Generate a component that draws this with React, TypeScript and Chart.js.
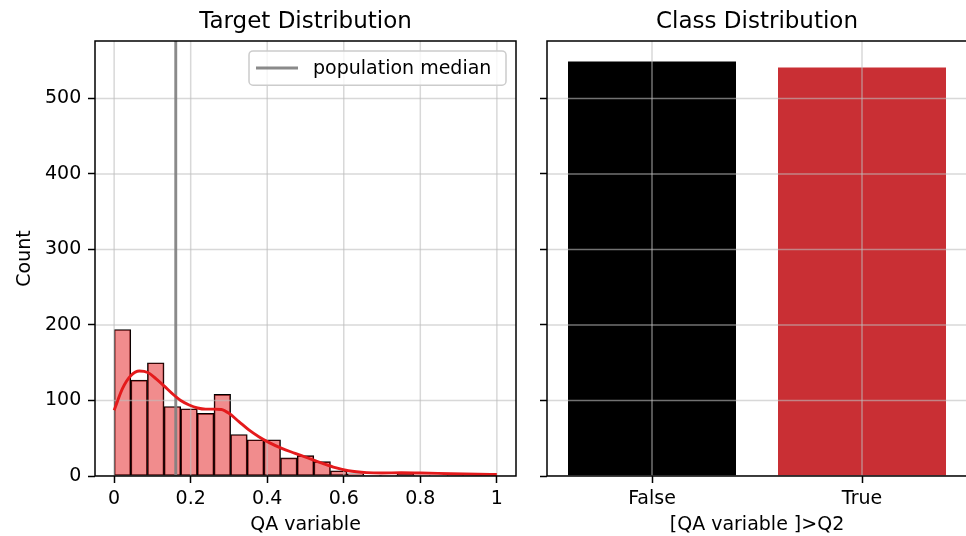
import React, { useEffect, useRef } from 'react';
import { Chart, registerables } from 'chart.js';

Chart.register(...registerables);

// ---------- data ----------
const histCounts = [194, 127, 150, 92, 89, 83, 108, 55, 48, 48, 24, 27, 19, 7, 3, 1, 1, 5, 1, 0, 1, 0, 1];
const binRange = [0, 1];
const kdeX = [0, 0.022, 0.044, 0.066, 0.088, 0.109, 0.131, 0.152, 0.174, 0.196, 0.218, 0.239, 0.261, 0.28, 0.3, 0.326, 0.352, 0.378, 0.404, 0.438, 0.473, 0.508, 0.543, 0.578, 0.612, 0.66, 0.7, 0.75, 0.8, 0.88, 0.95, 1.0];
const kdeY = [87, 116, 133, 139, 137, 129, 119, 109, 100, 94, 90, 88.5, 88.5, 88, 83, 72, 61, 52, 44.5, 36.5, 30, 23.5, 17, 11, 7, 4.5, 4, 4.3, 4, 3, 2.3, 2];
const medianValue = 0.161;
const xTickValues = [0, 0.2, 0.4, 0.6, 0.8, 1];
const xTickLabels = ['0', '0.2', '0.4', '0.6', '0.8', '1'];
const yTickValues = [0, 100, 200, 300, 400, 500];
const yTickLabels = ['0', '100', '200', '300', '400', '500'];
const classLabels = ['False', 'True'];
const classCounts = [549, 541];
const yMax = 576;
const xLimits = [-0.05, 1.05];

// ---------- styles ----------
const FONT = "'DejaVu Sans', sans-serif";
const GRID_COLOR = 'rgba(190,190,190,0.6)';
const KDE_COLOR = '#e41a1c';
const HIST_FILL = 'rgba(228,26,28,0.5)';
const MEDIAN_COLOR = 'rgba(128,128,128,0.92)';
const CLASS_COLORS = ['#000000', '#c92f34'];

Chart.defaults.font.family = FONT;
Chart.defaults.font.size = 19;
Chart.defaults.color = '#000';

const overlayPlugin = {
  id: 'overlay',
  afterDatasetDraw(chart: any, args: any) {
    if (args.meta.type !== 'bar') return;
    const { ctx, chartArea, scales } = chart;
    const { left, right, top, bottom } = chartArea;
    ctx.save();
    ctx.beginPath();
    ctx.rect(left, top, right - left, bottom - top);
    ctx.clip();
    ctx.strokeStyle = GRID_COLOR;
    ctx.lineWidth = 1.5;
    const xs = scales.x;
    xs.ticks.forEach((_t: any, i: number) => {
      const px = xs.getPixelForTick(i);
      ctx.beginPath();
      ctx.moveTo(px, top);
      ctx.lineTo(px, bottom);
      ctx.stroke();
    });
    const ys = scales.y;
    ys.ticks.forEach((_t: any, i: number) => {
      const py = ys.getPixelForTick(i);
      ctx.beginPath();
      ctx.moveTo(left, py);
      ctx.lineTo(right, py);
      ctx.stroke();
    });
    ctx.restore();
  },
  afterDraw(chart: any, _args: any, opts: any) {
    const { ctx, chartArea } = chart;
    const { left, right, top, bottom } = chartArea;
    ctx.save();
    ctx.strokeStyle = '#000';
    ctx.lineWidth = 1.5;
    ctx.strokeRect(left, top, right - left, bottom - top);
    if (opts && opts.legendText) {
      const boxW = 257;
      const boxH = 34.3;
      const bx = right - 10 - boxW;
      const by = top + 9.9;
      ctx.beginPath();
      (ctx as any).roundRect(bx, by, boxW, boxH, 4);
      ctx.fillStyle = 'rgba(255,255,255,0.8)';
      ctx.fill();
      ctx.strokeStyle = '#cccccc';
      ctx.lineWidth = 1.5;
      ctx.stroke();
      const my = by + boxH / 2;
      ctx.beginPath();
      ctx.moveTo(bx + 7, my);
      ctx.lineTo(bx + 49, my);
      ctx.strokeStyle = opts.legendColor;
      ctx.lineWidth = 2.9;
      ctx.stroke();
      ctx.fillStyle = '#000';
      ctx.font = `19px ${FONT}`;
      ctx.textBaseline = 'middle';
      ctx.textAlign = 'left';
      ctx.fillText(opts.legendText, bx + 64, my + 1);
    }
    ctx.restore();
  },
};

const tickGrid = {
  display: true,
  drawOnChartArea: false,
  drawTicks: true,
  tickLength: 7,
  tickWidth: 1.5,
  tickColor: '#000',
  offset: false,
};

const titleOpts = (text: string) => ({
  display: true,
  text,
  fullSize: false,
  color: '#000',
  font: { size: 23, weight: 'normal' as const, family: FONT },
  padding: { top: 8.2, bottom: 5.2 },
});

export default function App() {
  const leftRef = useRef<HTMLCanvasElement>(null);
  const rightRef = useRef<HTMLCanvasElement>(null);

  useEffect(() => {
    const nBins = histCounts.length;
    const binW = (binRange[1] - binRange[0]) / nBins;
    const histData = histCounts.map((c, i) => ({ x: binRange[0] + (i + 0.5) * binW, y: c }));
    const kdeData = kdeX.map((x, i) => ({ x, y: kdeY[i] }));

    const left = new Chart(leftRef.current as HTMLCanvasElement, {
      type: 'bar',
      data: {
        datasets: [
          {
            type: 'line',
            label: 'kde',
            data: kdeData,
            borderColor: KDE_COLOR,
            borderWidth: 2.9,
            pointRadius: 0,
            cubicInterpolationMode: 'monotone',
            order: 0,
          } as any,
          {
            type: 'line',
            label: 'population median',
            data: [
              { x: medianValue, y: 0 },
              { x: medianValue, y: yMax },
            ],
            borderColor: MEDIAN_COLOR,
            borderWidth: 2.9,
            pointRadius: 0,
            order: 1,
          } as any,
          {
            type: 'bar',
            label: 'hist',
            data: histData,
            backgroundColor: HIST_FILL,
            borderColor: '#000',
            borderWidth: 1,
            borderSkipped: false,
            barPercentage: 1,
            categoryPercentage: 1,
            order: 2,
          } as any,
        ],
      },
      options: {
        responsive: false,
        animation: false,
        layout: { padding: { left: 0, right: 10, top: 0, bottom: 0 } },
        plugins: {
          legend: { display: false },
          tooltip: { enabled: false },
          title: titleOpts('Target Distribution'),
          overlay: { legendText: 'population median', legendColor: MEDIAN_COLOR },
        } as any,
        scales: {
          x: {
            type: 'linear',
            offset: false,
            min: xLimits[0],
            max: xLimits[1],
            afterBuildTicks: (s: any) => {
              s.ticks = xTickValues.map((v) => ({ value: v }));
            },
            afterFit: (s: any) => {
              s.height = 60;
            },
            ticks: {
              callback: (_v: any, i: number) => xTickLabels[i] ?? '',
              padding: 5,
              maxRotation: 0,
              autoSkip: false,
              font: { size: 19 },
              color: '#000',
            },
            grid: tickGrid,
            border: { display: false },
            title: { display: true, text: 'QA variable', color: '#000', font: { size: 19 }, padding: { top: 0, bottom: 0 } },
          },
          y: {
            type: 'linear',
            min: 0,
            max: yMax,
            afterBuildTicks: (s: any) => {
              s.ticks = yTickValues.map((v) => ({ value: v }));
            },
            afterFit: (s: any) => {
              s.width = 95;
            },
            ticks: {
              callback: (_v: any, i: number) => yTickLabels[i] ?? '',
              padding: 6.7,
              autoSkip: false,
              font: { size: 19 },
              color: '#000',
            },
            grid: tickGrid,
            border: { display: false },
            title: { display: true, text: 'Count', color: '#000', font: { size: 19 }, padding: { top: 13.6, bottom: 0 } },
          },
        },
      } as any,
      plugins: [overlayPlugin],
    });

    const right = new Chart(rightRef.current as HTMLCanvasElement, {
      type: 'bar',
      data: {
        labels: classLabels,
        datasets: [
          {
            label: 'class',
            data: classCounts,
            backgroundColor: CLASS_COLORS,
            borderWidth: 0,
            barPercentage: 0.8,
            categoryPercentage: 1,
          },
        ],
      },
      options: {
        responsive: false,
        animation: false,
        layout: { padding: { left: 0, right: 0, top: 0, bottom: 0 } },
        plugins: {
          legend: { display: false },
          tooltip: { enabled: false },
          title: titleOpts('Class Distribution'),
          overlay: {},
        } as any,
        scales: {
          x: {
            type: 'category',
            offset: true,
            afterFit: (s: any) => {
              s.height = 60;
            },
            ticks: { padding: 5, maxRotation: 0, autoSkip: false, font: { size: 19 }, color: '#000' },
            grid: tickGrid,
            border: { display: false },
            title: { display: true, text: '[QA variable ]>Q2', color: '#000', font: { size: 19 }, padding: { top: 0, bottom: 0 } },
          },
          y: {
            type: 'linear',
            min: 0,
            max: yMax,
            afterBuildTicks: (s: any) => {
              s.ticks = yTickValues.map((v) => ({ value: v }));
            },
            afterFit: (s: any) => {
              s.width = 21;
            },
            ticks: { display: false },
            grid: tickGrid,
            border: { display: false },
          },
        },
      } as any,
      plugins: [overlayPlugin],
    });

    return () => {
      left.destroy();
      right.destroy();
    };
  }, []);

  return (
    <div style={{ position: 'absolute', left: 0, top: 0, width: 966, height: 536, overflow: 'hidden', background: '#fff' }}>
      <canvas ref={leftRef} width={526} height={536} style={{ position: 'absolute', left: 0, top: 0 }} />
      <canvas ref={rightRef} width={441} height={536} style={{ position: 'absolute', left: 526, top: 0 }} />
    </div>
  );
}
